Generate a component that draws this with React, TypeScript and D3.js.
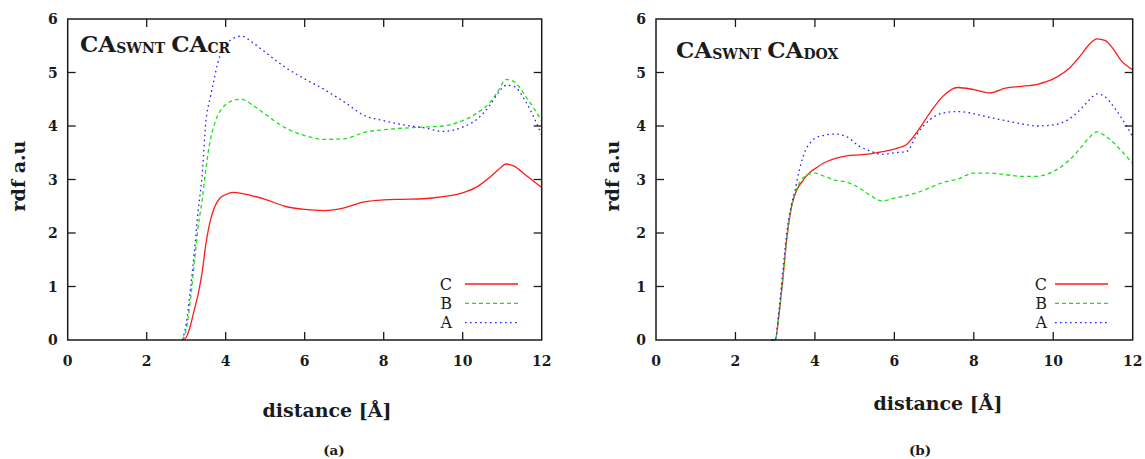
import React, { useEffect, useRef } from 'react';
import * as d3 from 'd3';

// panel (a): CA_SWNT - CA_CR, distance grid in Å
const distA = [2.9, 3.0, 3.1, 3.2, 3.3, 3.4, 3.5, 3.6, 3.7, 3.8, 3.9, 4.0, 4.2, 4.4, 4.7, 5.0, 5.5, 6.0, 6.5, 7.0, 7.5, 8.0, 8.5, 9.0, 9.5, 10.0, 10.4, 10.7, 10.9, 11.1, 11.3, 11.6, 12];
const rdfA_C = [0, 0.05, 0.25, 0.55, 0.85, 1.25, 1.8, 2.2, 2.45, 2.6, 2.68, 2.72, 2.76, 2.74, 2.69, 2.63, 2.5, 2.44, 2.42, 2.47, 2.58, 2.62, 2.63, 2.64, 2.68, 2.75, 2.88, 3.05, 3.18, 3.29, 3.25, 3.08, 2.85];
const rdfA_B = [0, 0.2, 0.7, 1.4, 2.1, 2.6, 3.2, 3.7, 4.0, 4.2, 4.32, 4.4, 4.48, 4.5, 4.38, 4.22, 3.97, 3.82, 3.75, 3.76, 3.88, 3.93, 3.96, 3.98, 4.0, 4.1, 4.26, 4.45, 4.66, 4.87, 4.83, 4.55, 4.1];
const rdfA_A = [0, 0.3, 0.9, 1.6, 2.4, 3.05, 4.1, 4.5, 4.85, 5.18, 5.4, 5.52, 5.64, 5.68, 5.55, 5.38, 5.1, 4.88, 4.68, 4.45, 4.2, 4.1, 4.02, 3.97, 3.9, 3.98, 4.15, 4.4, 4.62, 4.76, 4.74, 4.45, 3.83];

// panel (b): CA_SWNT - CA_DOX
const distB = [2.9, 3.0, 3.1, 3.2, 3.3, 3.4, 3.5, 3.6, 3.7, 3.8, 3.9, 4.0, 4.2, 4.5, 4.8, 5.1, 5.4, 5.7, 6.0, 6.3, 6.6, 6.9, 7.2, 7.6, 8.0, 8.4, 8.8, 9.2, 9.6, 10.0, 10.4, 10.7, 10.9, 11.1, 11.3, 11.5, 11.7, 12];
const rdfB_C = [0, 0, 0.5, 1.2, 1.95, 2.45, 2.72, 2.88, 2.98, 3.08, 3.15, 3.2, 3.3, 3.39, 3.44, 3.46, 3.48, 3.52, 3.57, 3.65, 3.92, 4.25, 4.54, 4.72, 4.68, 4.62, 4.71, 4.74, 4.78, 4.88, 5.08, 5.33, 5.52, 5.63, 5.6, 5.45, 5.23, 5.05];
const rdfB_B = [0, 0, 0.5, 1.2, 1.95, 2.45, 2.75, 2.92, 3.03, 3.08, 3.11, 3.12, 3.07, 2.99, 2.95, 2.85, 2.7, 2.6, 2.65, 2.7, 2.76, 2.85, 2.94, 3.01, 3.12, 3.12, 3.09, 3.06, 3.06, 3.15, 3.36, 3.6, 3.78, 3.89, 3.82, 3.7, 3.55, 3.3];
const rdfB_A = [0, 0, 0.6, 1.35, 2.05, 2.5, 2.8, 3.15, 3.42, 3.6, 3.7, 3.77, 3.82, 3.85, 3.8, 3.63, 3.53, 3.47, 3.5, 3.52, 3.88, 4.12, 4.24, 4.27, 4.23, 4.16, 4.1, 4.04, 4.0, 4.02, 4.13, 4.32, 4.48, 4.6, 4.55, 4.38, 4.17, 3.8];

const xTicks = [0, 2, 4, 6, 8, 10, 12];
const yTicks = [0, 1, 2, 3, 4, 5, 6];
const legendNames = ['C', 'B', 'A'];

const serif = '"DejaVu Serif", "Liberation Serif", serif';
const ink = '#1b1b1b';
const styles: any = {
  C: { color: '#ff1a1a', dash: null },
  B: { color: '#1ee01e', dash: '4,3' },
  A: { color: '#2222ff', dash: '1.6,3.4' },
};

var drawPanel = function (svg: any, p: any) {
  var x = d3.scaleLinear().domain([0, 12]).range([p.left, p.right]);
  var y = d3.scaleLinear().domain([0, 6]).range([p.bottom, p.top]);
  var g = svg.append('g');

  // curves first so the frame sits on top of the zero baseline
  var line = d3.line<number>()
    .x((d, i) => x(p.dist[i]))
    .y((d) => y(d))
    .curve(d3.curveMonotoneX);
  ['C', 'B', 'A'].forEach(function (k) {
    g.append('path')
      .attr('d', line(p.series[k]))
      .attr('fill', 'none')
      .attr('stroke', styles[k].color)
      .attr('stroke-width', 1.3)
      .attr('stroke-dasharray', styles[k].dash);
  });

  // frame
  g.append('rect')
    .attr('x', p.left).attr('y', p.top)
    .attr('width', p.right - p.left).attr('height', p.bottom - p.top)
    .attr('fill', 'none').attr('stroke', ink).attr('stroke-width', 1.5);

  // inward ticks on all four sides
  var tl = 8;
  xTicks.slice(1, -1).forEach(function (t) {
    g.append('line').attr('x1', x(t)).attr('x2', x(t)).attr('y1', p.bottom).attr('y2', p.bottom - tl).attr('stroke', ink).attr('stroke-width', 1.3);
    g.append('line').attr('x1', x(t)).attr('x2', x(t)).attr('y1', p.top).attr('y2', p.top + tl).attr('stroke', ink).attr('stroke-width', 1.3);
  });
  yTicks.slice(1, -1).forEach(function (t) {
    g.append('line').attr('x1', p.left).attr('x2', p.left + tl).attr('y1', y(t)).attr('y2', y(t)).attr('stroke', ink).attr('stroke-width', 1.3);
    g.append('line').attr('x1', p.right).attr('x2', p.right - tl).attr('y1', y(t)).attr('y2', y(t)).attr('stroke', ink).attr('stroke-width', 1.3);
  });

  // tick labels
  g.selectAll('.xl').data(xTicks).enter().append('text')
    .attr('x', (d: number) => x(d)).attr('y', 366)
    .attr('text-anchor', 'middle')
    .style('font', 'bold 14px ' + serif).attr('fill', ink)
    .text((d: number) => d);
  g.selectAll('.yl').data(yTicks).enter().append('text')
    .attr('x', p.left - 10).attr('y', (d: number) => y(d) + 5)
    .attr('text-anchor', 'end')
    .style('font', 'bold 14px ' + serif).attr('fill', ink)
    .text((d: number) => d);

  // axis titles
  g.append('text')
    .attr('transform', 'translate(' + p.yLabelX + ',176) rotate(-90)')
    .attr('text-anchor', 'middle')
    .style('font', 'bold 19px ' + serif).attr('fill', ink)
    .text('rdf a.u');
  g.append('text')
    .attr('x', p.xLabelX).attr('y', p.xLabelY)
    .attr('text-anchor', 'middle')
    .style('font', 'bold 19px ' + serif).attr('fill', ink)
    .text('distance [Å]');
  g.append('text')
    .attr('x', p.captionX).attr('y', 455)
    .attr('text-anchor', 'middle')
    .style('font', 'bold 13.5px ' + serif).attr('fill', ink)
    .text(p.caption);

  // title with subscripts
  var title = g.append('text')
    .attr('x', p.titleX).attr('y', p.titleY)
    .style('font-family', serif).style('font-weight', 'bold').attr('fill', ink);
  title.append('tspan').style('font-size', '23px').text('CA');
  title.append('tspan').style('font-size', '14px').attr('dy', 1).text('SWNT');
  title.append('tspan').style('font-size', '23px').attr('dy', -1).attr('dx', 6).text('CA');
  title.append('tspan').style('font-size', '14px').attr('dy', 1).text(p.sub);

  // legend
  legendNames.forEach(function (k, i) {
    var ly = 284 + i * 19.3;
    g.append('text')
      .attr('x', p.legendText).attr('y', ly + 5.5)
      .attr('text-anchor', 'end')
      .style('font', '16px ' + serif).attr('fill', ink)
      .text(k);
    g.append('line')
      .attr('x1', p.legendLine[0]).attr('x2', p.legendLine[1])
      .attr('y1', ly).attr('y2', ly)
      .attr('stroke', styles[k].color).attr('stroke-width', 1.3)
      .attr('stroke-dasharray', styles[k].dash);
  });
};

export default function App() {
  const ref = useRef<SVGSVGElement>(null);

  useEffect(() => {
    var svg = d3.select(ref.current);
    svg.selectAll('*').remove();
    drawPanel(svg, {
      left: 67.7, right: 541.7, top: 19, bottom: 340,
      dist: distA, series: { C: rdfA_C, B: rdfA_B, A: rdfA_A },
      sub: 'CR', titleX: 80, titleY: 52,
      yLabelX: 25, xLabelX: 327, xLabelY: 417,
      caption: '(a)', captionX: 334,
      legendText: 452, legendLine: [465, 518],
    });
    drawPanel(svg, {
      left: 656, right: 1132.7, top: 19, bottom: 340,
      dist: distB, series: { C: rdfB_C, B: rdfB_B, A: rdfB_A },
      sub: 'DOX', titleX: 676, titleY: 58,
      yLabelX: 619, xLabelX: 938, xLabelY: 410,
      caption: '(b)', captionX: 920,
      legendText: 1047, legendLine: [1055, 1108],
    });
  }, []);

  return (
    <svg ref={ref} width={1145} height={459}
      style={{ position: 'absolute', left: 0, top: 0, background: '#fff' }} />
  );
}
